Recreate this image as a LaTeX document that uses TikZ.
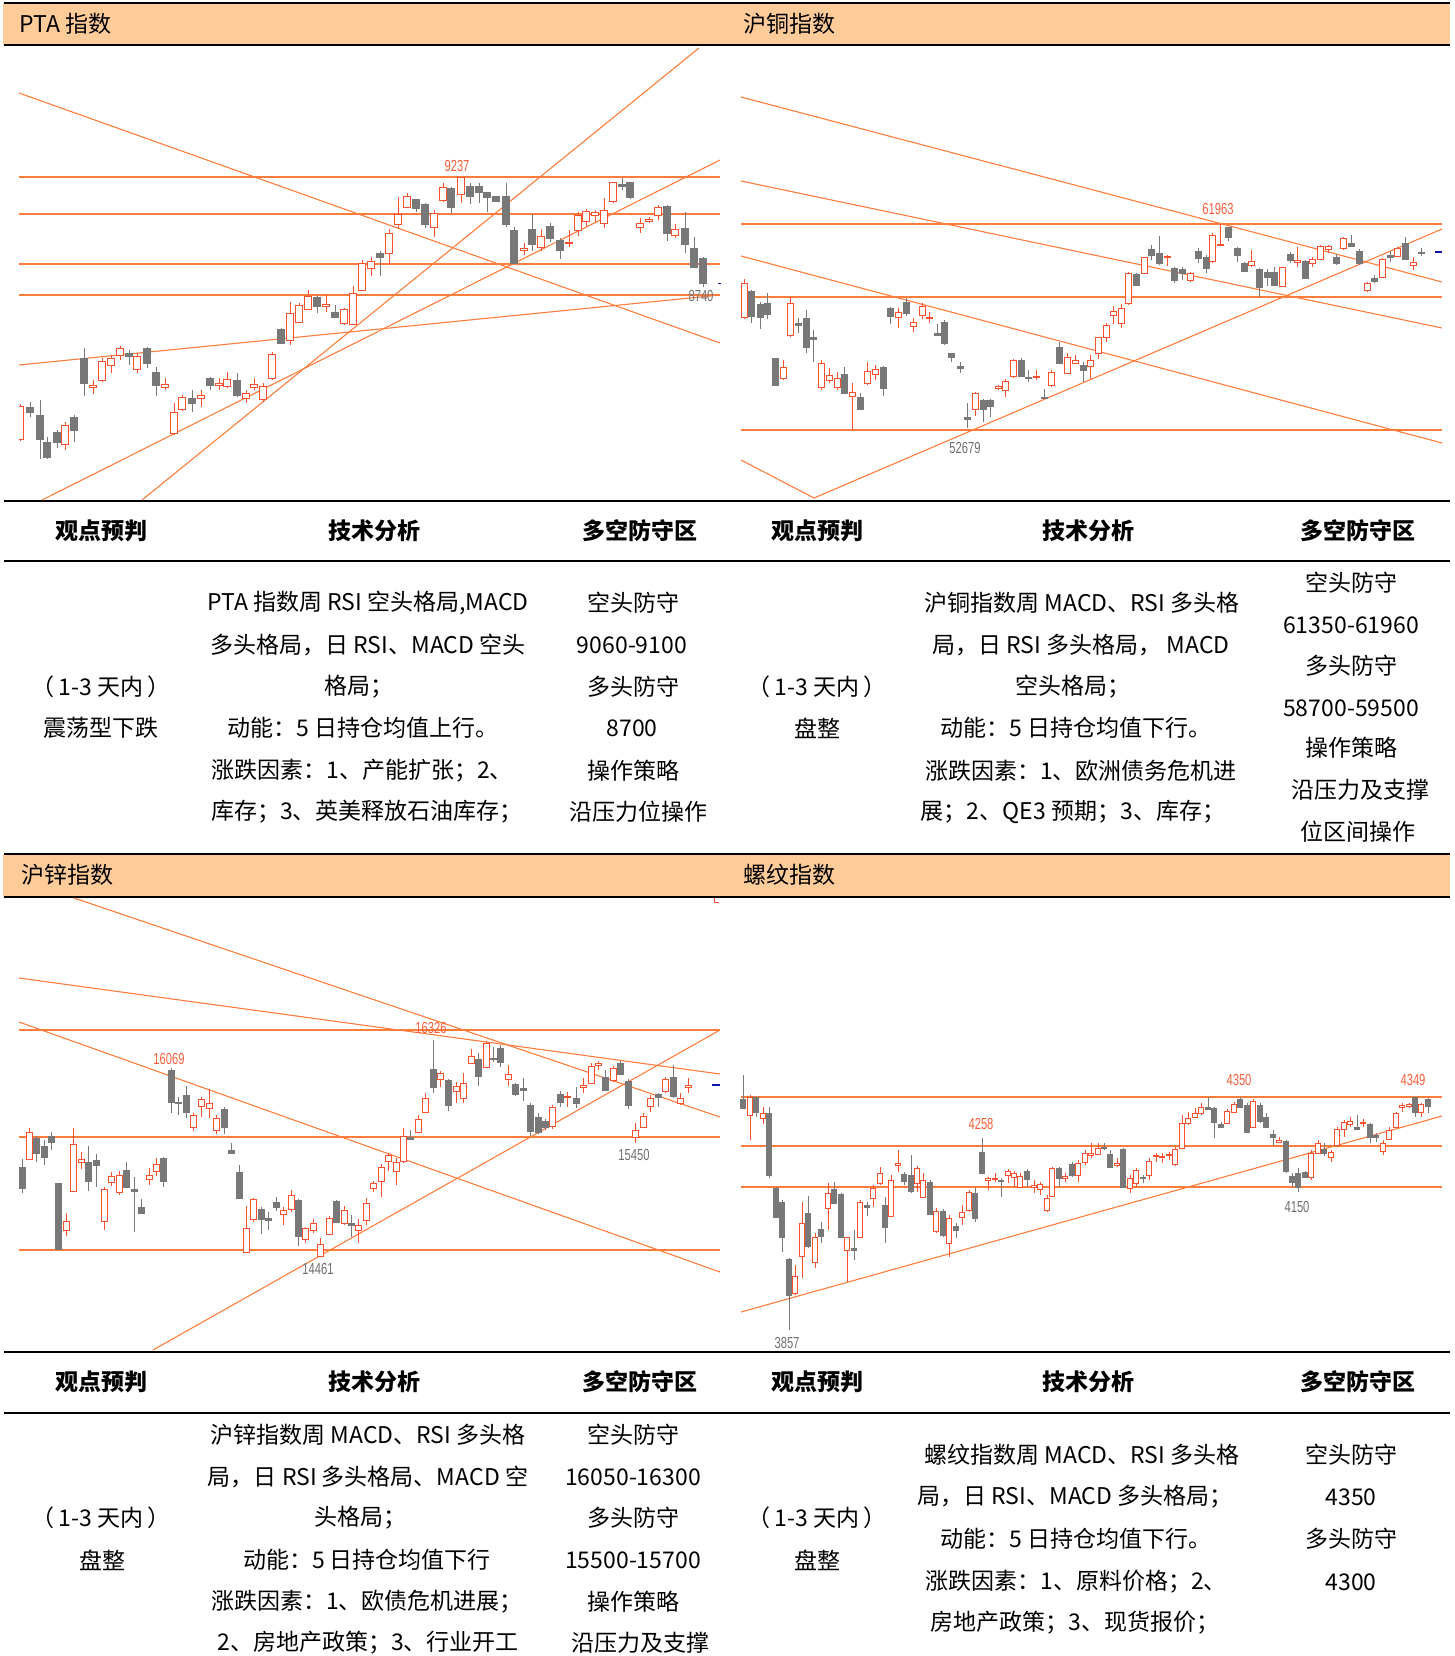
\documentclass[tikz,border=0pt]{standalone}
\usepackage{fontspec}
\setmainfont{Noto Sans CJK SC}
\newfontfamily\chartfont[FakeStretch=0.7]{Liberation Sans}

\definecolor{bandpeach}{RGB}{255,204,153}
\definecolor{trendorange}{RGB}{255,125,60}
\definecolor{candlered}{RGB}{250,80,45}
\definecolor{candlegray}{RGB}{120,120,120}
\definecolor{labelred}{RGB}{250,95,60}
\definecolor{labelgray}{RGB}{110,110,110}
\definecolor{markblue}{RGB}{20,20,170}

\tikzset{every picture/.style={line width=0.75pt}}
\tikzset{
  band/.style={fill=bandpeach, draw=none},
  rule/.style={draw=black, line width=2pt},
  hline/.style={draw=trendorange, line width=1.6pt},
  tline/.style={draw=trendorange, line width=1.1pt},
  bull/.style={draw=candlered, fill=white, line width=1pt},
  bear/.style={draw=candlegray, fill=candlegray, line width=1pt},
  bandtitle/.style={anchor=west, inner sep=0, font=\fontsize{23}{26}\selectfont},
  colhead/.style={inner sep=0, font=\fontsize{23}{26}\selectfont\bfseries},
  celltext/.style={inner sep=0, font=\fontsize{23}{26}\selectfont},
  hilabel/.style={inner sep=0, text=labelred, font=\chartfont\fontsize{16}{16}\selectfont},
  lolabel/.style={inner sep=0, text=labelgray, font=\chartfont\fontsize{16}{16}\selectfont}
}

\begin{document}
\begin{tikzpicture}[x=1pt,y=1pt,yscale=-1,xscale=1]
	\useasboundingbox (0,0) rectangle (1455,1656);

	%Shape: Bands
	\fill[band] (3,3) rectangle (1450,45);
	\fill[band] (3,854) rectangle (1450,897);
	%Straight Lines: rules
	\draw[rule] (4,3) -- (1450,3);
	\draw[rule] (4,45) -- (1450,45);
	\draw[rule] (4,501) -- (1450,501);
	\draw[rule] (4,561) -- (1450,561);
	\draw[rule] (4,854) -- (1450,854);
	\draw[rule] (4,897) -- (1450,897);
	\draw[rule] (4,1352) -- (1450,1352);
	\draw[rule] (4,1413) -- (1450,1413);

	% Text Node
	\node[bandtitle] (ttlA) at (19,24) {PTA 指数};
	\node[bandtitle] (ttlB) at (743,24) {沪铜指数};
	\node[bandtitle] (ttlC) at (21,875) {沪锌指数};
	\node[bandtitle] (ttlD) at (743,875) {螺纹指数};

	%%%%%%%% PTA chart
	\draw[hline] (19,177) -- (720,177);
	\draw[hline] (19,214) -- (720,214);
	\draw[hline] (19,264) -- (720,264);
	\draw[hline] (19,295) -- (720,295);
	\draw[tline] (19,93) -- (720,343);
	\draw[tline] (142,500) -- (699,48);
	\draw[tline] (42,500) -- (720,160);
	\draw[tline] (19,365) -- (720,295);
	\def\cw{3.5}
	\begin{scope}
	\clip (19,46) rectangle (725,500);
	\foreach \cx/\ct/\cb/\ch/\cl/\ck in {
		20/406/439/404/441/bull, 30/407/412/402/417/bear, 40/415/439/400/459/bear, 47/442/457/437/459/bear,
		57/432/442/430/448/bear, 65/425/444/422/450/bull, 74/417/430/415/442/bear, 84/358/383/348/396/bear,
		93/385/387/380/394/bull, 102/361/380/358/382/bull, 111/358/365/355/373/bull, 120/348/355/346/360/bull,
		129/353/356/350/365/bear, 137/356/369/353/373/bull, 147/348/363/347/368/bear, 156/372/385/367/396/bear,
		165/384/387/378/390/bull, 174/412/433/403/435/bull, 182/397/409/395/411/bull, 192/398/403/390/412/bear,
		201/395/398/390/407/bull, 210/378/385/377/390/bear, 219/383/385/378/390/bull, 227/379/386/372/388/bull,
		237/380/395/373/397/bear, 246/393/398/390/403/bull, 254/384/387/378/390/bull, 263/386/399/383/402/bull,
		272/354/378/352/380/bull, 281/329/343/328/344/bear, 290/313/340/302/345/bull, 299/305/322/303/323/bull,
		308/296/309/290/310/bull, 317/297/306/295/313/bear, 326/304/306/295/312/bull, 335/312/317/305/318/bear,
		344/309/323/308/325/bull, 353/293/324/286/325/bull, 362/263/290/260/291/bull, 371/261/268/257/276/bull,
		380/253/257/251/276/bear, 389/233/253/229/264/bull, 398/214/224/197/229/bull, 407/197/207/193/208/bull,
		416/200/208/199/212/bear, 425/204/224/203/228/bear, 434/213/227/210/237/bull, 443/188/201/183/202/bull,
		451/189/207/187/213/bear, 461/178/195/177/203/bull, 470/187/197/183/204/bear, 479/187/193/183/203/bear,
		487/193/198/193/212/bear, 496/197/202/197/202/bear, 506/197/224/183/227/bear, 514/230/263/227/264/bear,
		524/248/250/243/255/bull, 532/229/244/214/251/bear, 541/236/247/229/251/bull, 550/226/238/223/242/bear,
		560/240/250/238/259/bear, 569/242/243/230/247/bull, 578/215/230/212/236/bull, 586/211/221/209/226/bull,
		595/212/215/210/222/bull, 604/210/223/198/228/bull, 613/183/202/182/203/bull, 622/185/187/178/190/bear,
		630/183/198/182/199/bear, 640/223/227/218/233/bull, 649/219/221/217/223/bull, 658/207/215/205/220/bull,
		667/206/233/205/241/bear, 675/229/235/224/238/bull, 685/228/244/212/253/bear, 694/248/267/237/267/bear,
		703/258/283/257/287/bear}{
		\draw[\ck] (\cx,\ch) -- (\cx,\cl);
		\draw[\ck] (\cx-\cw,\ct) rectangle (\cx+\cw,\cb);
	}
	\end{scope}
	\draw[markblue, line width=1pt] (718,283) -- (721,283);
	% Text Node
	\node[hilabel] (pkA) at (457,166) {9237};
	\node[lolabel] (lwA) at (701,296) {8740};

	%%%%%%%% copper chart
	\draw[hline] (741,224) -- (1442,224);
	\draw[hline] (741,297) -- (1442,297);
	\draw[hline] (741,430) -- (1442,430);
	\draw[tline] (741,97) -- (1442,282);
	\draw[tline] (741,181) -- (1442,328);
	\draw[tline] (741,256) -- (1442,443);
	\draw[tline] (814,498) -- (1442,229);
	\draw[tline] (741,460) -- (814,498);
	\def\cw{3}
	\foreach \cx/\ct/\cb/\ch/\cl/\ck in {
		744/283/317/279/319/bull, 751/291/316/290/323/bear, 760/304/317/302/329/bear, 767/303/314/293/319/bear,
		775/358/385/358/386/bear, 783/367/378/360/380/bull, 790/303/335/297/337/bull, 798/323/325/318/333/bear,
		806/318/347/310/353/bear, 813/337/339/330/362/bear, 821/363/387/360/390/bull, 829/375/380/368/383/bull,
		837/378/387/372/390/bull, 844/374/393/367/394/bear, 852/392/396/383/430/bull, 860/397/409/393/410/bear,
		867/371/383/362/385/bull, 875/369/374/365/380/bull, 883/367/388/366/396/bear, 890/308/316/307/324/bear,
		898/312/317/308/328/bull, 906/302/313/298/316/bear, 913/322/326/318/332/bull, 922/306/315/303/319/bull,
		929/317/318/312/323/bull, 937/333/335/324/335/bear, 944/322/343/320/345/bear, 951/353/357/353/362/bear,
		960/366/368/362/373/bear, 967/417/419/403/428/bear, 975/393/409/392/416/bull, 983/400/409/399/422/bear,
		990/400/406/399/417/bear, 998/386/388/385/390/bull, 1005/381/390/379/397/bull, 1013/360/376/359/378/bull,
		1021/360/376/358/377/bear, 1028/377/378/370/382/bear, 1036/376/377/370/380/bull, 1044/397/398/389/399/bear,
		1051/372/385/370/387/bull, 1059/347/363/342/363/bear, 1067/357/373/353/373/bull, 1075/360/363/355/363/bull,
		1083/365/370/362/382/bear, 1090/360/366/355/379/bull, 1098/337/353/337/359/bull, 1106/325/337/323/342/bull,
		1113/311/315/306/324/bull, 1121/308/323/304/328/bull, 1128/273/303/272/305/bull, 1136/274/285/273/286/bear,
		1144/257/273/257/274/bull, 1151/249/255/245/260/bear, 1159/253/263/236/265/bear, 1167/256/257/255/266/bull,
		1174/268/280/267/283/bear, 1182/269/273/267/280/bear, 1190/273/280/272/282/bull, 1198/251/258/248/263/bear,
		1206/257/268/255/273/bear, 1212/235/261/233/263/bull, 1220/244/245/224/246/bull, 1228/227/237/227/241/bear,
		1237/248/255/247/262/bear, 1244/263/271/262/272/bear, 1251/261/265/250/267/bull, 1259/269/287/268/297/bear,
		1267/272/277/269/286/bear, 1274/272/285/267/286/bear, 1282/267/286/267/287/bull, 1290/254/260/252/263/bear,
		1297/260/262/247/267/bull, 1305/261/278/260/279/bear, 1312/259/263/257/267/bull, 1320/246/259/245/260/bull,
		1328/246/249/245/253/bull, 1336/257/263/254/265/bear, 1343/238/248/237/250/bull, 1351/243/246/235/247/bear,
		1359/251/263/249/265/bear, 1367/283/290/282/292/bull, 1374/278/281/275/283/bear, 1382/259/277/258/277/bull,
		1390/255/257/251/262/bear, 1397/248/256/247/257/bull, 1405/243/259/237/260/bear, 1413/262/265/257/270/bull,
		1421/252/253/248/256/bear}{
		\draw[\ck] (\cx,\ch) -- (\cx,\cl);
		\draw[\ck] (\cx-\cw,\ct) rectangle (\cx+\cw,\cb);
	}
	\draw[markblue, line width=1.2pt] (1435,252) -- (1442,252);
	% Text Node
	\node[hilabel] (pkB) at (1218,209) {61963};
	\node[lolabel] (lwB) at (965,448) {52679};

	%%%%%%%% zinc chart
	\draw[hline] (19,1030) -- (720,1030);
	\draw[hline] (19,1137) -- (720,1137);
	\draw[hline] (19,1250) -- (720,1250);
	\draw[tline] (74,898) -- (720,1117);
	\draw[tline] (19,978) -- (720,1074);
	\draw[tline] (19,1022) -- (720,1272);
	\draw[tline] (153,1350) -- (720,1030);
	\def\cw{3}
	\foreach \cx/\ct/\cb/\ch/\cl/\ck in {
		22/1167/1188/1159/1193/bear, 29/1132/1159/1128/1160/bull, 36/1138/1153/1136/1162/bear, 44/1146/1157/1140/1165/bear,
		51/1136/1142/1132/1150/bear, 58/1183/1249/1183/1249/bear, 66/1221/1230/1213/1236/bull, 73/1144/1191/1128/1192/bull,
		81/1159/1162/1152/1169/bull, 88/1162/1181/1146/1191/bear, 96/1160/1165/1154/1187/bear, 104/1189/1221/1187/1230/bull,
		111/1176/1182/1172/1186/bull, 119/1175/1192/1171/1195/bull, 126/1170/1187/1162/1187/bear, 134/1189/1191/1177/1232/bear,
		141/1207/1213/1199/1213/bear, 149/1175/1179/1168/1185/bull, 156/1164/1171/1158/1176/bull, 163/1158/1181/1157/1187/bear,
		171/1070/1102/1068/1113/bear, 178/1102/1103/1097/1115/bear, 186/1095/1112/1086/1118/bear, 193/1115/1127/1113/1131/bull,
		201/1099/1106/1097/1117/bull, 209/1103/1108/1089/1118/bull, 216/1118/1130/1115/1134/bull, 224/1109/1127/1107/1134/bear,
		231/1150/1153/1143/1154/bear, 239/1172/1198/1165/1198/bear, 246/1228/1252/1206/1252/bull, 253/1199/1219/1198/1222/bull,
		261/1209/1219/1207/1234/bear, 268/1218/1220/1212/1230/bear, 276/1202/1207/1197/1211/bear, 283/1210/1214/1207/1225/bull,
		291/1195/1209/1190/1212/bull, 298/1200/1236/1199/1246/bear, 305/1228/1239/1227/1243/bull, 313/1223/1230/1219/1233/bull,
		320/1244/1256/1238/1257/bull, 329/1218/1234/1216/1235/bull, 336/1201/1222/1200/1223/bear, 344/1210/1223/1206/1225/bull,
		351/1223/1225/1215/1237/bear, 358/1225/1230/1219/1243/bull, 366/1203/1220/1198/1225/bull, 373/1183/1188/1181/1192/bull,
		381/1167/1181/1164/1197/bull, 388/1155/1161/1153/1171/bull, 396/1162/1171/1158/1185/bull, 403/1136/1161/1128/1163/bull,
		410/1137/1139/1130/1140/bear, 418/1119/1132/1115/1133/bull, 425/1098/1112/1093/1113/bull, 433/1069/1087/1040/1093/bear,
		440/1073/1079/1071/1087/bull, 448/1080/1105/1079/1111/bear, 456/1086/1091/1082/1103/bull, 463/1083/1098/1073/1103/bull,
		471/1056/1063/1049/1064/bull, 478/1059/1076/1053/1086/bear, 486/1043/1067/1041/1068/bull, 493/1058/1059/1047/1062/bear,
		500/1048/1062/1045/1067/bear, 508/1074/1079/1065/1086/bull, 515/1084/1094/1083/1096/bear, 523/1088/1090/1078/1101/bear,
		530/1105/1131/1103/1136/bear, 538/1117/1132/1113/1134/bear, 545/1121/1127/1119/1130/bear, 552/1107/1126/1105/1129/bull,
		560/1094/1102/1091/1107/bear, 567/1096/1097/1092/1107/bull, 576/1098/1103/1087/1108/bear, 583/1085/1087/1078/1093/bull,
		591/1066/1083/1063/1083/bull, 598/1063/1065/1061/1070/bull, 605/1077/1090/1070/1091/bear, 613/1068/1080/1066/1082/bull,
		620/1063/1074/1061/1075/bear, 628/1081/1105/1079/1109/bear, 635/1130/1137/1123/1143/bull, 643/1116/1127/1113/1128/bull,
		650/1098/1106/1095/1112/bull, 658/1094/1097/1093/1107/bear, 665/1079/1091/1077/1093/bull, 673/1077/1096/1065/1098/bear,
		680/1098/1103/1093/1105/bull, 688/1085/1087/1078/1093/bull}{
		\draw[\ck] (\cx,\ch) -- (\cx,\cl);
		\draw[\ck] (\cx-\cw,\ct) rectangle (\cx+\cw,\cb);
	}
	\draw[markblue, line width=1.2pt] (712,1085) -- (720,1085);
	\draw[candlered, line width=1pt] (714,898) -- (714,902) -- (719,902);
	% Text Node
	\node[hilabel] (pkC) at (431,1028) {16326};
	\node[hilabel] (pkC2) at (169,1059) {16069};
	\node[lolabel] (lwC) at (634,1155) {15450};
	\node[lolabel] (lwC2) at (318,1269) {14461};

	%%%%%%%% rebar chart
	\draw[hline] (741,1097) -- (1442,1097);
	\draw[hline] (741,1146) -- (1442,1146);
	\draw[hline] (741,1187) -- (1442,1187);
	\draw[tline] (741,1312) -- (1442,1116);
	\def\cw{2.5}
	\foreach \cx/\ct/\cb/\ch/\cl/\ck in {
		743/1099/1108/1075/1109/bear, 750/1097/1115/1095/1140/bull, 756/1097/1112/1097/1117/bear, 763/1113/1118/1107/1124/bull,
		769/1113/1175/1107/1178/bear, 776/1188/1217/1187/1218/bear, 782/1202/1237/1200/1252/bear, 789/1259/1295/1258/1330/bear,
		795/1276/1293/1265/1295/bull, 802/1223/1256/1202/1278/bull, 808/1213/1246/1196/1248/bear, 815/1237/1262/1233/1268/bull,
		821/1229/1236/1222/1243/bear, 828/1193/1208/1183/1230/bull, 834/1189/1203/1182/1203/bear, 841/1194/1237/1193/1238/bear,
		847/1237/1250/1237/1282/bull, 854/1248/1250/1230/1260/bear, 860/1202/1237/1200/1238/bull, 867/1205/1207/1202/1216/bear,
		873/1188/1198/1185/1207/bull, 880/1173/1183/1167/1185/bull, 885/1205/1227/1197/1243/bear, 891/1180/1216/1175/1217/bull,
		898/1163/1165/1150/1172/bull, 904/1174/1181/1172/1185/bear, 911/1175/1191/1155/1193/bear, 917/1168/1183/1166/1192/bull,
		923/1180/1197/1173/1197/bull, 930/1182/1214/1180/1215/bear, 936/1211/1231/1208/1233/bull, 943/1211/1235/1209/1237/bear,
		949/1218/1243/1215/1257/bull, 956/1226/1230/1223/1238/bear, 962/1212/1217/1205/1225/bull, 969/1192/1210/1190/1212/bull,
		975/1193/1218/1188/1222/bear, 982/1152/1173/1138/1174/bear, 988/1178/1180/1177/1190/bull, 995/1178/1179/1173/1182/bull,
		1001/1180/1181/1178/1197/bear, 1008/1171/1175/1169/1183/bull, 1014/1173/1177/1171/1186/bull, 1020/1176/1187/1173/1187/bull,
		1027/1171/1179/1169/1187/bear, 1034/1185/1187/1180/1193/bull, 1040/1184/1189/1182/1195/bull, 1047/1198/1210/1195/1212/bull,
		1052/1168/1196/1167/1197/bull, 1059/1168/1178/1167/1187/bear, 1065/1176/1178/1173/1182/bull, 1072/1164/1175/1162/1177/bear,
		1078/1163/1175/1160/1182/bull, 1085/1153/1162/1150/1165/bull, 1091/1153/1155/1143/1158/bull, 1098/1148/1154/1143/1155/bull,
		1104/1147/1148/1143/1150/bear, 1110/1154/1167/1150/1168/bear, 1117/1163/1165/1158/1167/bull, 1123/1149/1187/1148/1188/bear,
		1130/1178/1188/1175/1193/bull, 1136/1170/1183/1168/1187/bull, 1143/1177/1178/1175/1183/bear, 1149/1161/1175/1158/1180/bull,
		1156/1155/1156/1153/1162/bull, 1162/1156/1157/1153/1163/bull, 1169/1154/1155/1152/1160/bull, 1175/1149/1164/1147/1166/bull,
		1182/1123/1148/1115/1149/bull, 1188/1118/1123/1112/1125/bull, 1195/1113/1117/1108/1118/bull, 1201/1107/1113/1103/1115/bull,
		1208/1107/1109/1097/1110/bear, 1214/1108/1122/1107/1138/bear, 1221/1124/1127/1122/1128/bear, 1227/1111/1123/1109/1124/bull,
		1234/1104/1112/1102/1113/bull, 1240/1099/1107/1097/1108/bear, 1247/1105/1132/1103/1133/bear, 1253/1101/1127/1099/1128/bull,
		1260/1105/1121/1103/1123/bear, 1266/1117/1127/1113/1128/bear, 1273/1134/1137/1130/1145/bear, 1279/1140/1142/1137/1143/bull,
		1286/1141/1171/1140/1173/bear, 1292/1176/1182/1173/1187/bear, 1298/1173/1187/1168/1192/bear, 1305/1172/1177/1171/1178/bear,
		1311/1153/1177/1150/1180/bull, 1318/1143/1153/1140/1154/bull, 1324/1149/1153/1143/1156/bear, 1331/1152/1157/1150/1162/bull,
		1337/1129/1145/1127/1147/bull, 1344/1122/1129/1120/1137/bull, 1350/1121/1124/1117/1127/bull, 1357/1127/1129/1115/1130/bear,
		1363/1122/1123/1119/1127/bull, 1370/1124/1137/1123/1143/bear, 1376/1135/1137/1133/1142/bear, 1383/1143/1151/1140/1155/bull,
		1389/1130/1139/1127/1140/bull, 1396/1113/1127/1112/1128/bull, 1402/1105/1107/1103/1112/bull, 1409/1104/1106/1103/1108/bull,
		1415/1097/1112/1097/1117/bear, 1421/1104/1112/1103/1117/bull, 1428/1099/1106/1098/1113/bear}{
		\draw[\ck] (\cx,\ch) -- (\cx,\cl);
		\draw[\ck] (\cx-\cw,\ct) rectangle (\cx+\cw,\cb);
	}
	% Text Node
	\node[hilabel] (pkD) at (981,1124) {4258};
	\node[hilabel] (pkD2) at (1239,1080) {4350};
	\node[hilabel] (pkD3) at (1413,1080) {4349};
	\node[lolabel] (lwD) at (1297,1207) {4150};
	\node[lolabel] (lwD2) at (787,1343) {3857};

	%%%%%%%% tables
	% Text Node
	\node[colhead] (hdA1) at (101,531) {观点预判};
	\node[colhead] (hdA2) at (374,531) {技术分析};
	\node[colhead] (hdA3) at (640,531) {多空防守区};
	\node[colhead] (hdB1) at (817,531) {观点预判};
	\node[colhead] (hdB2) at (1088,531) {技术分析};
	\node[colhead] (hdB3) at (1358,531) {多空防守区};
	\node[colhead] (hdC1) at (101,1382) {观点预判};
	\node[colhead] (hdC2) at (374,1382) {技术分析};
	\node[colhead] (hdC3) at (640,1382) {多空防守区};
	\node[colhead] (hdD1) at (817,1382) {观点预判};
	\node[colhead] (hdD2) at (1088,1382) {技术分析};
	\node[colhead] (hdD3) at (1358,1382) {多空防守区};

	% Text Node: PTA
	\node[celltext] (vwA1) at (101,687) {（\,1-3 天内\,）};
	\node[celltext] (vwA2) at (101,728) {震荡型下跌};
	\node[celltext] (taA1) at (368,603) {PTA 指数周 RSI 空头格局,MACD};
	\node[celltext] (taA2) at (368,645) {多头格局，日 RSI、MACD 空头};
	\node[celltext] (taA3) at (359,687) {格局；};
	\node[celltext] (taA4) at (363,728) {动能：5 日持仓均值上行。};
	\node[celltext] (taA5) at (362,771) {涨跌因素：1、产能扩张；2、};
	\node[celltext] (taA6) at (367,812) {库存；3、英美释放石油库存；};
	\node[celltext] (dzA1) at (633,603) {空头防守};
	\node[celltext] (dzA2) at (632,645) {9060-9100};
	\node[celltext] (dzA3) at (633,687) {多头防守};
	\node[celltext] (dzA4) at (632,728) {8700};
	\node[celltext] (dzA5) at (633,771) {操作策略};
	\node[celltext] (dzA6) at (638,812) {沿压力位操作};

	% Text Node: copper
	\node[celltext] (vwB1) at (817,687) {（\,1-3 天内\,）};
	\node[celltext] (vwB2) at (817,728) {盘整};
	\node[celltext] (taB1) at (1082,603) {沪铜指数周 MACD、RSI 多头格};
	\node[celltext] (taB2) at (1081,645) {局，日 RSI 多头格局， MACD};
	\node[celltext] (taB3) at (1073,687) {空头格局；};
	\node[celltext] (taB4) at (1076,728) {动能：5 日持仓均值下行。};
	\node[celltext] (taB5) at (1081,771) {涨跌因素：1、欧洲债务危机进};
	\node[celltext] (taB6) at (1073,812) {展；2、QE3 预期；3、库存；};
	\node[celltext] (dzB1) at (1351,583) {空头防守};
	\node[celltext] (dzB2) at (1351,625) {61350-61960};
	\node[celltext] (dzB3) at (1351,666) {多头防守};
	\node[celltext] (dzB4) at (1351,708) {58700-59500};
	\node[celltext] (dzB5) at (1351,748) {操作策略};
	\node[celltext] (dzB6) at (1360,790) {沿压力及支撑};
	\node[celltext] (dzB7) at (1358,832) {位区间操作};

	% Text Node: zinc
	\node[celltext] (vwC1) at (101,1518) {（\,1-3 天内\,）};
	\node[celltext] (vwC2) at (102,1560) {盘整};
	\node[celltext] (taC1) at (368,1435) {沪锌指数周 MACD、RSI 多头格};
	\node[celltext] (taC2) at (368,1477) {局，日 RSI 多头格局、MACD 空};
	\node[celltext] (taC3) at (360,1518) {头格局；};
	\node[celltext] (taC4) at (367,1560) {动能：5 日持仓均值下行};
	\node[celltext] (taC5) at (367,1602) {涨跌因素：1、欧债危机进展；};
	\node[celltext] (taC6) at (368,1643) {2、房地产政策；3、行业开工};
	\node[celltext] (dzC1) at (633,1435) {空头防守};
	\node[celltext] (dzC2) at (633,1477) {16050-16300};
	\node[celltext] (dzC3) at (633,1518) {多头防守};
	\node[celltext] (dzC4) at (633,1560) {15500-15700};
	\node[celltext] (dzC5) at (633,1602) {操作策略};
	\node[celltext] (dzC6) at (640,1643) {沿压力及支撑};

	% Text Node: rebar
	\node[celltext] (vwD1) at (817,1518) {（\,1-3 天内\,）};
	\node[celltext] (vwD2) at (817,1560) {盘整};
	\node[celltext] (taD1) at (1082,1455) {螺纹指数周 MACD、RSI 多头格};
	\node[celltext] (taD2) at (1075,1497) {局，日 RSI、MACD 多头格局；};
	\node[celltext] (taD3) at (1076,1539) {动能：5 日持仓均值下行。};
	\node[celltext] (taD4) at (1076,1582) {涨跌因素：1、原料价格；2、};
	\node[celltext] (taD5) at (1075,1623) {房地产政策；3、现货报价；};
	\node[celltext] (dzD1) at (1351,1455) {空头防守};
	\node[celltext] (dzD2) at (1351,1497) {4350};
	\node[celltext] (dzD3) at (1351,1539) {多头防守};
	\node[celltext] (dzD4) at (1351,1582) {4300};

\end{tikzpicture}
\end{document}
